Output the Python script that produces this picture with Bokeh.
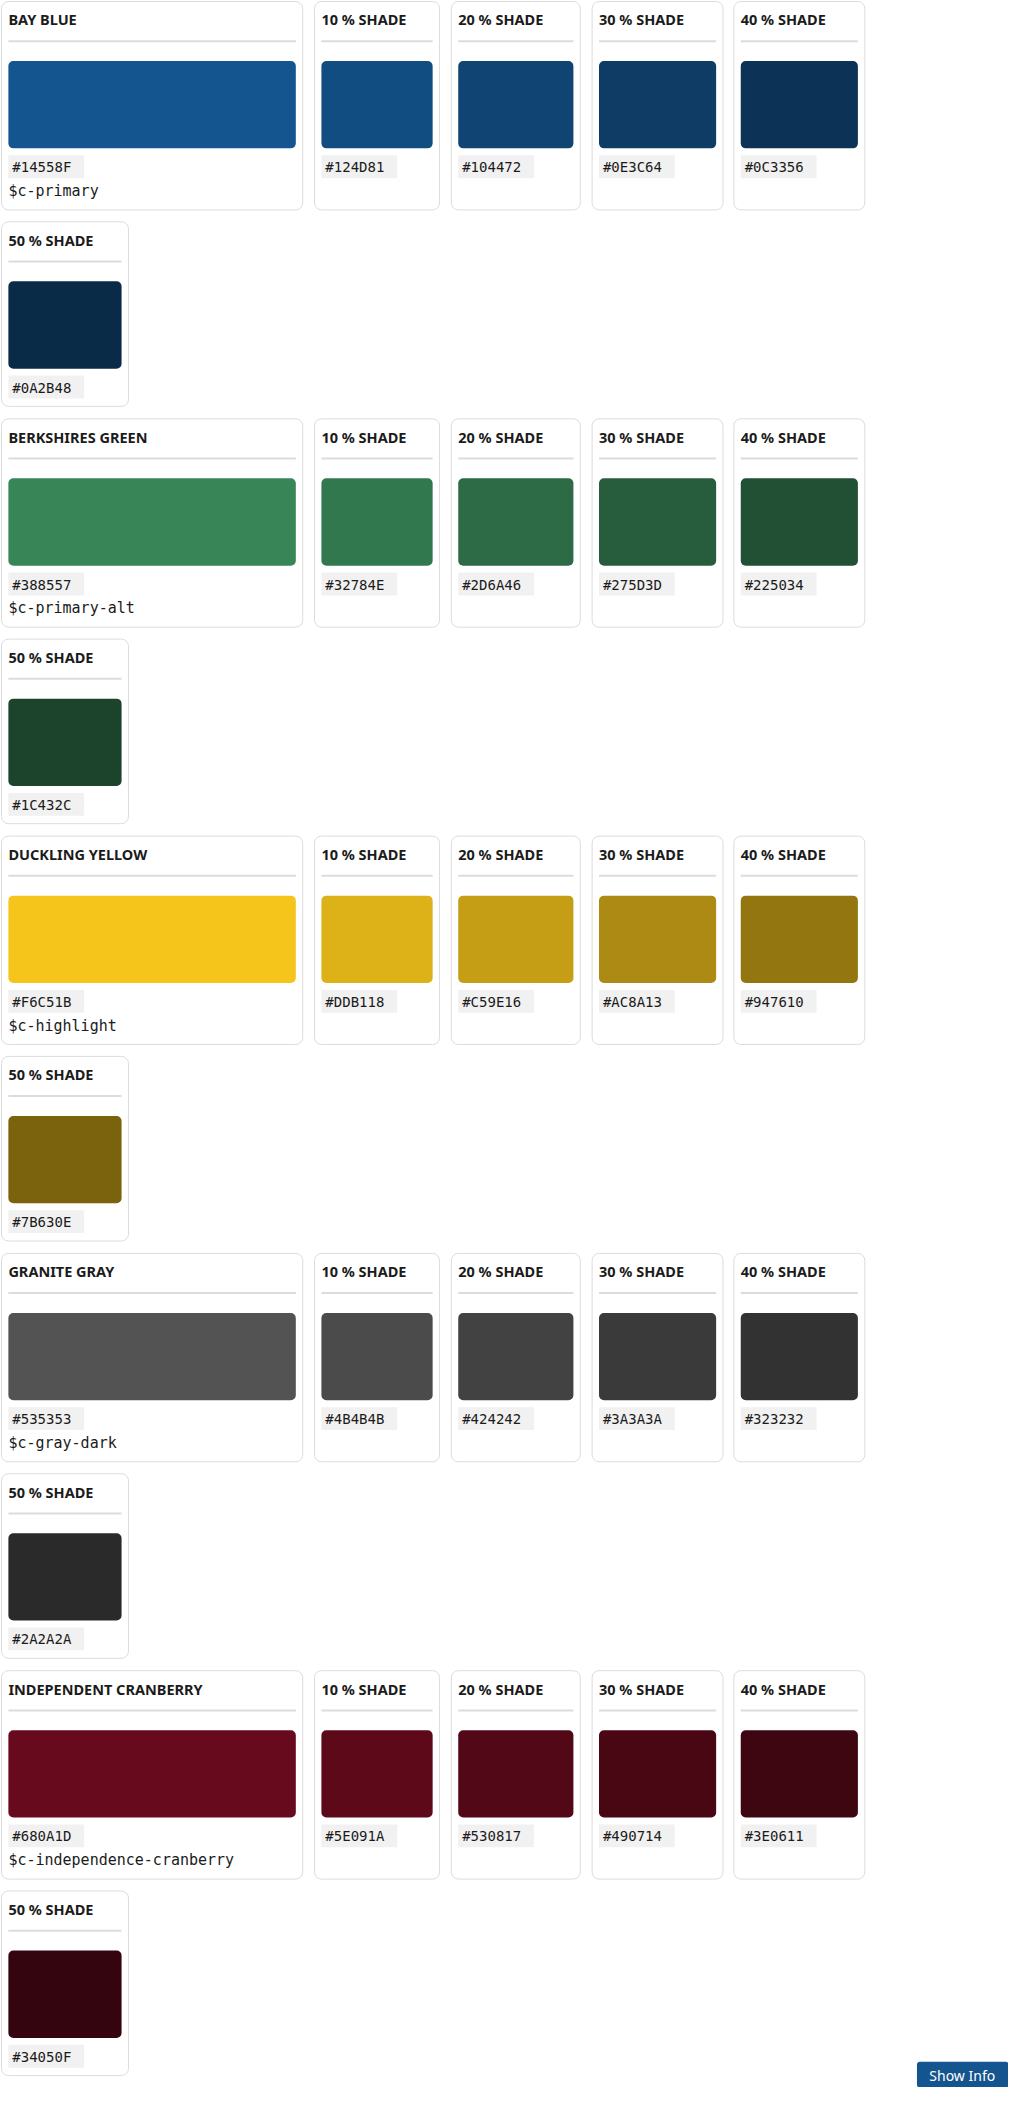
from bokeh.plotting import figure
from bokeh.models import Range1d
from bokeh.core.properties import value
from bokeh.embed import file_html
from bokeh.resources import INLINE

names = ["BAY BLUE", "BERKSHIRES GREEN", "DUCKLING YELLOW", "GRANITE GRAY", "INDEPENDENT CRANBERRY"]
variables = ["$c-primary", "$c-primary-alt", "$c-highlight", "$c-gray-dark", "$c-independence-cranberry"]
shade_labels = ["10 % SHADE", "20 % SHADE", "30 % SHADE", "40 % SHADE", "50 % SHADE"]
colors = [
    ["#14558F", "#124D81", "#104472", "#0E3C64", "#0C3356", "#0A2B48"],
    ["#388557", "#32784E", "#2D6A46", "#275D3D", "#225034", "#1C432C"],
    ["#F6C51B", "#DDB118", "#C59E16", "#AC8A13", "#947610", "#7B630E"],
    ["#535353", "#4B4B4B", "#424242", "#3A3A3A", "#323232", "#2A2A2A"],
    ["#680A1D", "#5E091A", "#530817", "#490714", "#3E0611", "#34050F"],
]

p = figure(width=1008, height=2087, output_backend="svg", toolbar_location=None,
           x_range=Range1d(0, 1024), y_range=Range1d(2103, 0))
p.axis.visible = False
p.grid.visible = False
p.outline_line_color = None
p.min_border = 0

X0 = [1, 319, 458, 601, 745]
X1 = [307, 446, 589, 734, 878]
FT = value("Noto Sans")
MONO = value("DejaVu Sans Mono")

def card(x0, x1, y0, h, title, col, hexs, var=None):
    p.quad(left=x0, right=x1, top=y0, bottom=y0 + h, fill_color="white",
           line_color="#dcdcdc", line_width=1, border_radius=7)
    p.text(x=x0 + 7, y=y0 + 18, text=[title], text_font=FT, text_font_style="bold",
           text_font_size="14.5px", text_color="#1b1b1b", text_baseline="middle")
    p.quad(left=x0 + 7, right=x1 - 7, top=y0 + 39, bottom=y0 + 41, fill_color="#dcdcdc", line_color=None)
    p.quad(left=x0 + 7, right=x1 - 7, top=y0 + 60, bottom=y0 + 148, fill_color=col,
           line_color=None, border_radius=5)
    p.quad(left=x0 + 7, right=x0 + 84, top=y0 + 155, bottom=y0 + 178, fill_color="#f1f1f1", line_color=None)
    p.text(x=x0 + 11, y=y0 + 167, text=[hexs], text_font=MONO, text_font_size="14px",
           text_color="#1b1b1b", text_baseline="middle")
    if var:
        p.text(x=x0 + 7, y=y0 + 191, text=[var], text_font=MONO, text_font_size="15px",
               text_color="#1b1b1b", text_baseline="middle")

for g in range(5):
    y0 = 1 + 420.5 * g
    card(X0[0], X1[0], y0, 210, names[g], colors[g][0], colors[g][0], variables[g])
    for k in range(4):
        card(X0[k + 1], X1[k + 1], y0, 210, shade_labels[k], colors[g][k + 1], colors[g][k + 1])
    card(1, 130, y0 + 222, 186, shade_labels[4], colors[g][5], colors[g][5])

p.quad(left=931, right=1024, top=2077, bottom=2103, fill_color="#14558F", line_color=None, border_radius=3)
p.text(x=977, y=2091, text=["Show Info"], text_font=FT, text_font_size="14px", text_color="white",
       text_align="center", text_baseline="middle")

open("out.html", "w").write(file_html(p, INLINE))
